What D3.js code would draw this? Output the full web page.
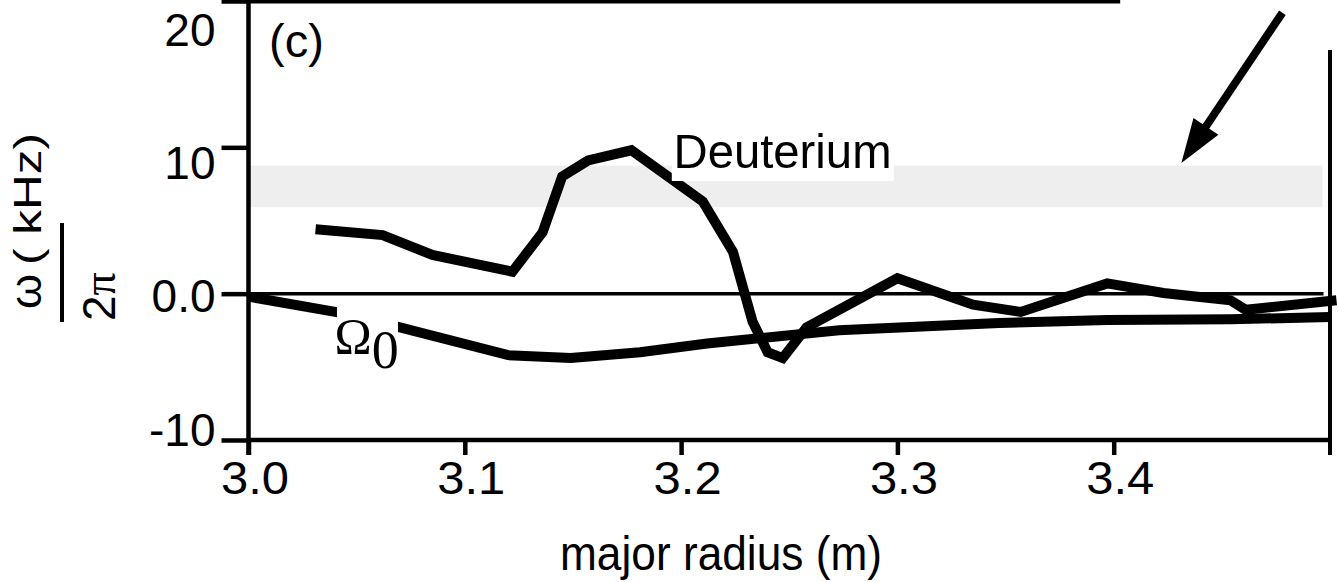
<!DOCTYPE html>
<html><head><meta charset="utf-8">
<script src="https://cdn.jsdelivr.net/npm/d3@7"></script>
<style>body{margin:0;background:#fff}svg{display:block}</style>
</head><body>
<svg id="chart" width="1339" height="582"></svg>
<script>
// ---- data ----
const xTicks = [3.0, 3.1, 3.2, 3.3, 3.4];
const xTickLabels = ["3.0", "3.1", "3.2", "3.3", "3.4"];
const yTicks = [-10, 0, 10, 20];
const yTickLabels = ["-10", "0.0", "10", "20"];

const deutR = [3.031, 3.062, 3.085, 3.122, 3.136, 3.145, 3.157, 3.177, 3.210, 3.224, 3.233, 3.240, 3.247, 3.258, 3.300, 3.335, 3.357, 3.397, 3.423, 3.454, 3.461, 3.503];
const deutW = [4.4, 4.0, 2.65, 1.5, 4.2, 8.0, 9.1, 9.8, 6.3, 2.85, -1.9, -4.0, -4.4, -2.3, 1.05, -0.75, -1.25, 0.7, 0.05, -0.45, -1.1, -0.45];

const omegaR = [3.000, 3.042, 3.070, 3.120, 3.149, 3.181, 3.212, 3.273, 3.347, 3.397, 3.454, 3.500];
const omegaW = [-0.2, -1.3, -2.3, -4.2, -4.4, -4.0, -3.4, -2.5, -2.0, -1.8, -1.75, -1.6];

const bandRange = [5.9, 8.75];

// ---- scales ----
const svg = d3.select("#chart");
const x = d3.scaleLinear().domain([3.0, 3.5]).range([248.5, 1330]);
const y = d3.scaleLinear().domain([-10, 20]).range([440, 1]);
const yLab = d3.scaleLinear().domain([-10, 20]).range([445, 45]); // label baselines

const sans = "'Liberation Sans', Arial, Helvetica, sans-serif";
const serif = "'Liberation Serif', 'Times New Roman', serif";

// gray band
svg.append("rect")
  .attr("x", x(3.0)).attr("width", x(3.4965) - x(3.0))
  .attr("y", y(bandRange[1])).attr("height", y(bandRange[0]) - y(bandRange[1]))
  .attr("fill", "#eeeeee");

// zero line
svg.append("line")
  .attr("x1", x(3.0)).attr("x2", x(3.497))
  .attr("y1", y(0)).attr("y2", y(0))
  .attr("stroke", "#000").attr("stroke-width", 3.5);

const line = d3.line().x(d => x(d[0])).y(d => y(d[1]));

svg.append("path")
  .attr("d", line(omegaR.map((r, i) => [r, omegaW[i]])))
  .attr("fill", "none").attr("stroke", "#000").attr("stroke-width", 10)
  .attr("stroke-linejoin", "miter");

svg.append("path")
  .attr("d", line(deutR.map((r, i) => [r, deutW[i]])))
  .attr("fill", "none").attr("stroke", "#000").attr("stroke-width", 10)
  .attr("stroke-linejoin", "miter");

// Deuterium label
svg.append("rect")
  .attr("x", x(3.1957)).attr("width", x(3.2983) - x(3.1957))
  .attr("y", y(11.3)).attr("height", y(7.7) - y(11.3))
  .attr("fill", "#fff");
svg.append("text")
  .attr("x", x(3.1965)).attr("y", y(8.6))
  .attr("font-family", sans).attr("font-size", 49)
  .attr("textLength", 218).attr("lengthAdjust", "spacingAndGlyphs")
  .text("Deuterium");

// Omega_0 label
svg.append("rect")
  .attr("x", x(3.0409)).attr("width", x(3.0691) - x(3.0409))
  .attr("y", y(-0.45)).attr("height", y(-5.6) - y(-0.45))
  .attr("fill", "#fff");
const om = svg.append("text")
  .attr("x", x(3.0398)).attr("y", y(-4.05))
  .attr("font-family", serif);
om.append("tspan").attr("font-size", 50).text("Ω");
om.append("tspan").attr("font-size", 54).attr("dy", 15).text("0");

// (c)
svg.append("text")
  .attr("x", x(3.0095)).attr("y", y(16.2))
  .attr("font-family", sans).attr("font-size", 47)
  .text("(c)");

// top frame line
svg.append("line")
  .attr("x1", x(3.0)).attr("x2", x(3.403))
  .attr("y1", y(20)).attr("y2", y(20))
  .attr("stroke", "#000").attr("stroke-width", 5);

// right edge line
svg.append("line")
  .attr("x1", x(3.5)).attr("x2", x(3.5))
  .attr("y1", y(16.65)).attr("y2", y(-10) + 15)
  .attr("stroke", "#000").attr("stroke-width", 4);

// arrow
const a0 = [3.478, 19.2], a1 = [3.4313, 8.93];
const p0 = [x(a0[0]), y(a0[1])], p1 = [x(a1[0]), y(a1[1])];
const ang = Math.atan2(p1[1] - p0[1], p1[0] - p0[0]);
const hl = 44, hw = 15;
const base = [p1[0] - hl * Math.cos(ang), p1[1] - hl * Math.sin(ang)];
svg.append("line")
  .attr("x1", p0[0]).attr("y1", p0[1])
  .attr("x2", base[0] + 5 * Math.cos(ang)).attr("y2", base[1] + 5 * Math.sin(ang))
  .attr("stroke", "#000").attr("stroke-width", 8);
svg.append("path")
  .attr("d", `M${p1[0]},${p1[1]}L${base[0] - hw * Math.sin(ang)},${base[1] + hw * Math.cos(ang)}L${base[0] + hw * Math.sin(ang)},${base[1] - hw * Math.cos(ang)}Z`)
  .attr("fill", "#000");

// x axis
const xAxis = svg.append("g")
  .attr("transform", `translate(0,${y(-10)})`)
  .call(d3.axisBottom(x).tickValues(xTicks).tickFormat((d, i) => xTickLabels[i])
    .tickSize(15).tickSizeOuter(0).tickPadding(0));
xAxis.select(".domain").attr("stroke-width", 4.5).attr("d", `M${x(3.0)},0H${x(3.5)}`);
xAxis.selectAll(".tick line").attr("stroke-width", 4.5);
xAxis.selectAll(".tick text")
  .attr("font-family", sans).attr("font-size", 46).attr("fill", "#000")
  .attr("textLength", 68).attr("lengthAdjust", "spacingAndGlyphs")
  .attr("dy", null).attr("x", 6).attr("y", 54);

// y axis
const yAxis = svg.append("g")
  .attr("transform", `translate(${x(3.0)},0)`)
  .call(d3.axisLeft(y).tickValues(yTicks).tickFormat((d, i) => yTickLabels[i])
    .tickSize(27).tickSizeOuter(0).tickPadding(0));
yAxis.select(".domain").attr("stroke-width", 4.5).attr("d", `M0,0V${y(-10) + 15}`);
yAxis.selectAll(".tick line").attr("stroke-width", 4.5);
yAxis.selectAll(".tick text")
  .attr("font-family", sans).attr("font-size", 46).attr("fill", "#000")
  .attr("dy", null).attr("x", -33)
  .attr("y", d => yLab(d) - y(d));

// x axis title
svg.append("text")
  .attr("x", 721).attr("y", 570)
  .attr("text-anchor", "middle")
  .attr("font-family", sans).attr("font-size", 49)
  .attr("textLength", 322).attr("lengthAdjust", "spacingAndGlyphs")
  .text("major radius (m)");

// y axis title (rotated fraction)
const yt = svg.append("g").attr("transform", "rotate(-90)");
yt.append("text").attr("x", -309).attr("y", 41)
  .attr("font-family", sans).attr("font-size", 45)
  .attr("textLength", 35).attr("lengthAdjust", "spacingAndGlyphs").text("ω");
yt.append("text").attr("x", -265).attr("y", 41)
  .attr("font-family", sans).attr("font-size", 38)
  .attr("textLength", 132).attr("lengthAdjust", "spacingAndGlyphs")
  .text("( kHz)");
yt.append("line").attr("x1", -322).attr("x2", -223).attr("y1", 62).attr("y2", 62)
  .attr("stroke", "#000").attr("stroke-width", 4);
const tp = yt.append("text").attr("x", -321).attr("y", 115)
  .attr("font-size", 46);
tp.append("tspan").attr("font-family", sans).text("2");
tp.append("tspan").attr("font-family", serif).text("π");
</script>
</body></html>
